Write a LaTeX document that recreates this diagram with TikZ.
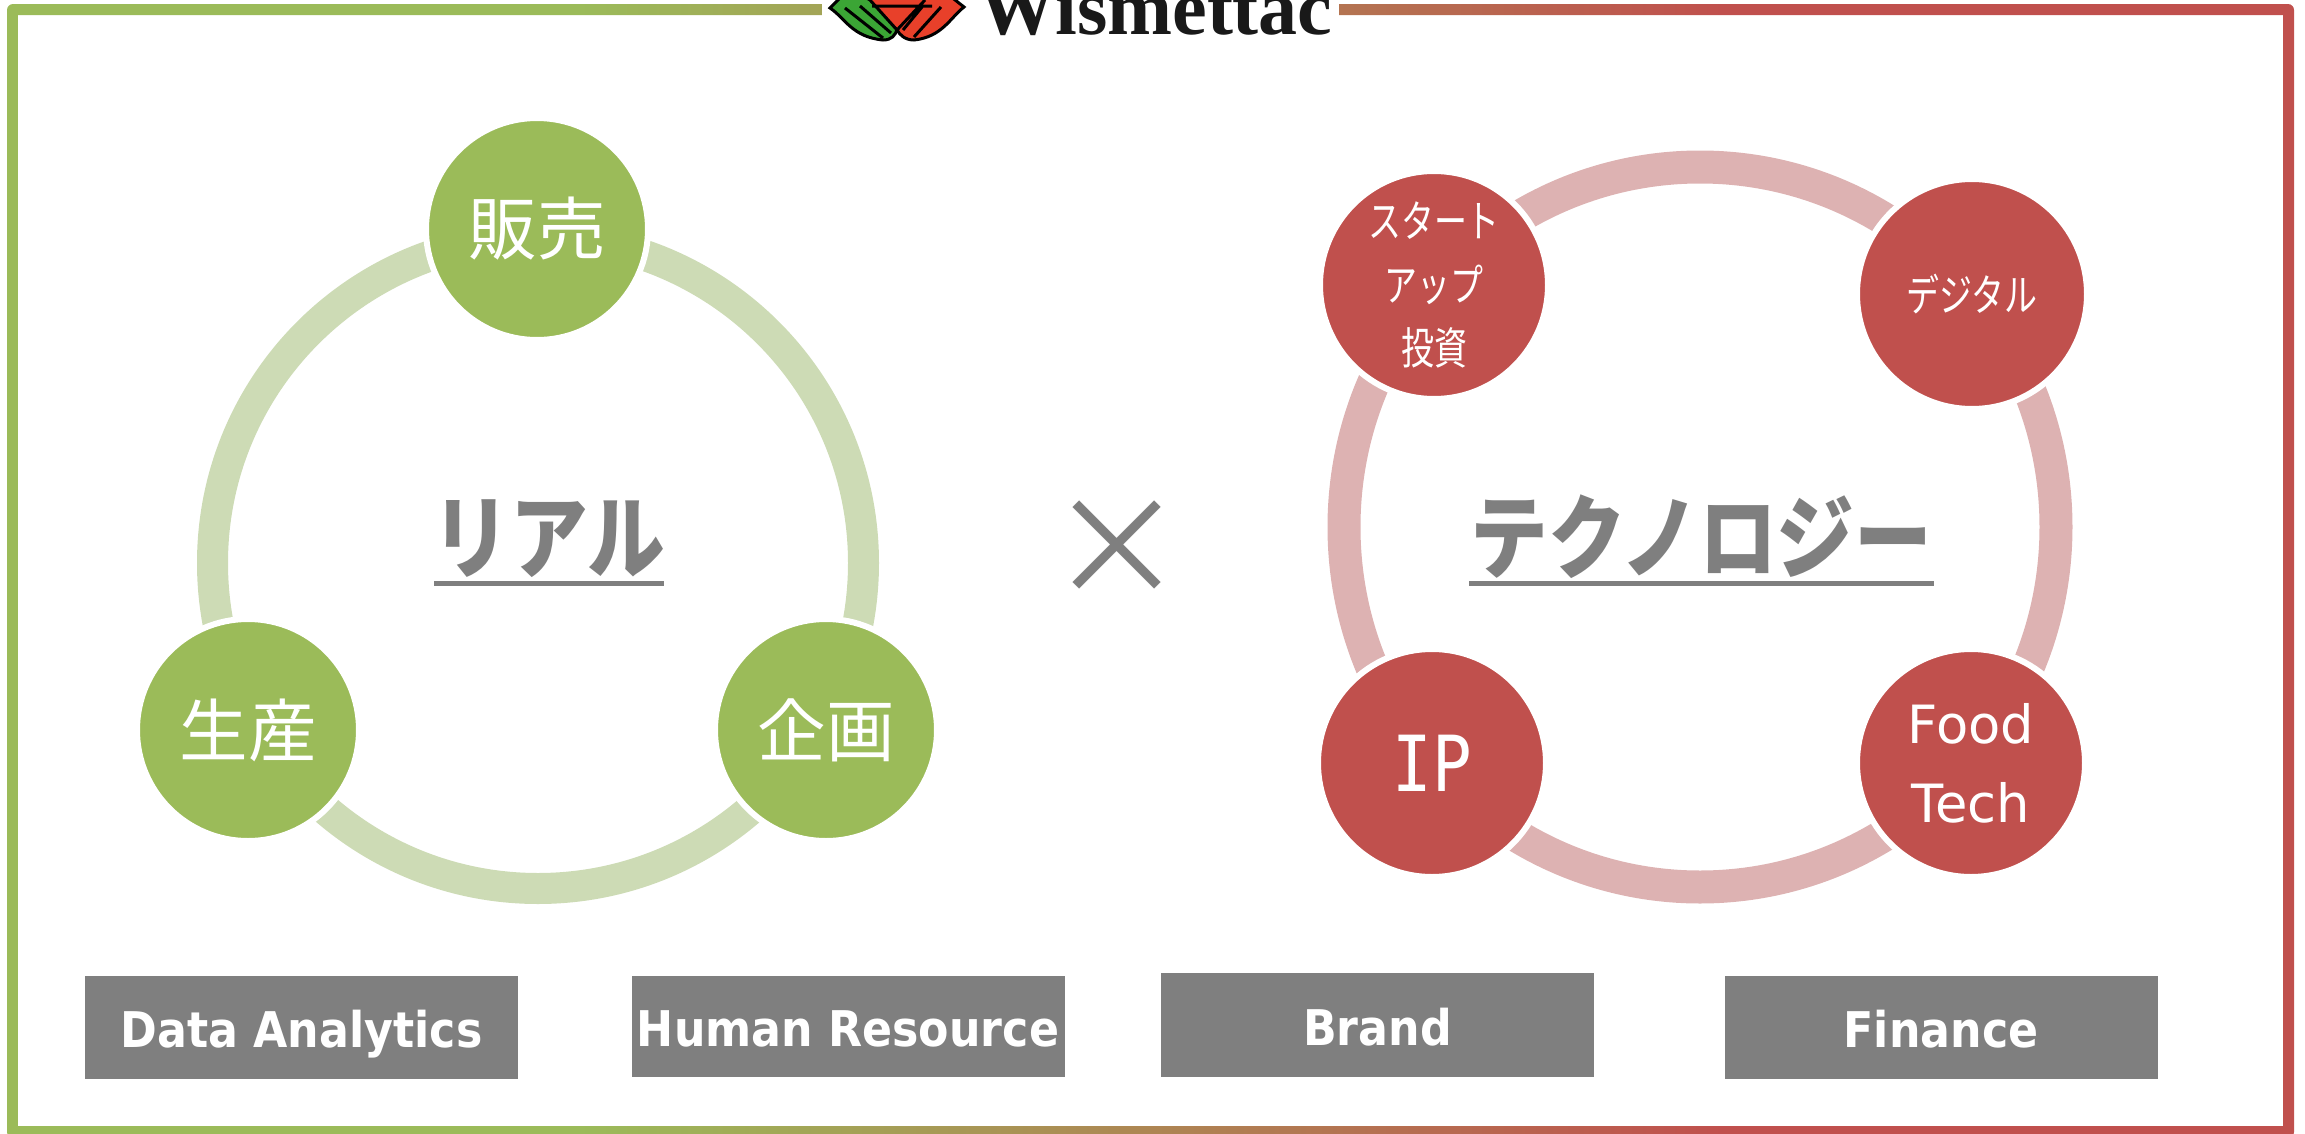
\documentclass[tikz,border=0pt]{standalone}
\usepackage{fontspec}
\setmainfont{DejaVu Sans}
\newfontfamily\jpfont{Noto Sans CJK JP}
\newfontfamily\jpnarrow[FakeStretch=0.85]{Noto Sans CJK JP}
\newfontfamily\jpsmall[FakeStretch=0.75]{Noto Sans CJK JP}
\newfontfamily\boxfont[FakeStretch=0.9]{DejaVu Sans}
\newfontfamily\logofont{Liberation Serif}
\newfontfamily\monofont[FakeStretch=0.85]{DejaVu Sans Mono}
\definecolor{realgreen}{HTML}{9BBB59}
\definecolor{techred}{HTML}{C0504D}
\definecolor{ringgreen}{HTML}{CDDBB5}
\definecolor{ringred}{HTML}{DDB2B2}
\definecolor{labelgray}{HTML}{7F7F7F}
\definecolor{leafgreen}{HTML}{3BA535}
\definecolor{leafred}{HTML}{E8402A}
\pgfdeclarehorizontalshading{frameshade}{100bp}{color(0bp)=(realgreen); color(37.5bp)=(realgreen); color(62.5bp)=(techred); color(100bp)=(techred)}
\begin{document}
\begin{tikzpicture}
[realvertex/.style={shape=circle,fill=realgreen,draw=white,line width=0.06cm,minimum size=2.22cm,inner sep=0pt,text=white,font=\jpfont\fontsize{19.5}{24}\selectfont},
techvertex/.style={shape=circle,fill=techred,draw=white,line width=0.06cm,minimum size=2.28cm,inner sep=0pt,text=white,align=center},
realring/.style={draw=ringgreen,line width=0.31cm},
techring/.style={draw=ringred,line width=0.33cm},
titlenode/.style={inner sep=0pt,minimum height=1.02cm,text height=0.78cm,text depth=0cm,text=labelgray,font=\jpnarrow\bfseries\fontsize{26}{30}\selectfont},
titleline/.style={draw=labelgray,line width=0.05cm},
grouplabel/.style={fill=labelgray,inner sep=0pt,minimum width=4.33cm,minimum height=1.03cm,text height=0.40cm,text depth=0cm,text=white,font=\boxfont\bfseries\fontsize{14}{18}\selectfont},
logoline/.style={line width=0.03cm}]
\clip (0,0) rectangle (23.05,11.33);
%% frame
\path[shading=frameshade,even odd rule] [rounded corners=0.06cm] (0.07,-0.05) rectangle (22.94,11.29) [sharp corners] (0.18,0.07) rectangle (22.83,11.18);
%% logo
\fill[white] (8.22,11.33) rectangle (13.39,10.85);
\node (logotext) [anchor=base west,inner sep=0pt,font=\logofont\bfseries\fontsize{22.2}{24}\selectfont,text=black!90] at (9.78,10.99) {Wismettac};
\draw[fill=leafred,logoline] (9.64,11.26) .. controls (9.50,11.15) and (9.42,10.96) .. (9.14,10.93) .. controls (9.05,10.93) and (9.00,10.98) .. (8.97,11.03) -- (8.50,11.45) -- (9.40,11.45) -- cycle;
\draw[fill=leafgreen,logoline] (8.30,11.25) .. controls (8.45,11.15) and (8.52,10.96) .. (8.83,10.93) .. controls (8.92,10.93) and (8.95,10.98) .. (8.97,11.03) -- (8.70,11.33) -- (8.50,11.45) -- cycle;
\draw[logoline] (8.45,11.25) -- (8.83,10.95) (8.60,11.27) -- (8.91,11.00) (9.41,11.26) -- (9.14,10.96) (9.22,11.26) -- (9.03,11.03) (8.97,11.03) -- (9.25,11.33) (8.72,11.27) -- (9.32,11.27);
%% left ring
\draw[realring] (5.38,5.70) circle (3.255);
\node (sales) [realvertex] at (5.37,9.04) {販売};
\node (production) [realvertex] at (2.48,4.03) {生産};
\node (planning) [realvertex] at (8.26,4.03) {企画};
\node (real) [titlenode,inner xsep=-0.03cm,minimum width=2.28cm] at (5.49,6.01) {リアル};
\draw[titleline] (real.south west) -- (real.south east);
%%
\node (times) [text=labelgray,inner sep=0pt,font=\jpfont\fontsize{39}{44}\selectfont] at (11.17,5.84) {×};
%% right ring
\draw[techring] (17.00,6.06) ellipse (3.56 and 3.60);
\node (startup) [techvertex,font=\jpsmall\fontsize{12.5}{18}\selectfont] at (14.34,8.48) {スタート\\アップ\\投資};
\node (digital) [techvertex,minimum size=2.30cm,font=\jpsmall\fontsize{12.5}{18}\selectfont] at (19.72,8.39) {デジタル};
\node (ip) [techvertex,font=\monofont\fontsize{22}{26}\selectfont] at (14.32,3.70) {IP};
\node (foodtech) [techvertex,font=\fontsize{15}{22.5}\selectfont] at (19.71,3.70) {Food\\Tech};
\node (tech) [titlenode,inner xsep=-0.03cm,minimum width=4.63cm] at (17.015,6.01) {テクノロジー};
\draw[titleline] (tech.south west) -- (tech.south east);
%% bottom labels
\node (data) [grouplabel] at (3.015,1.06) {Data Analytics};
\node (human) [grouplabel,minimum height=1.01cm] at (8.48,1.07) {Human Resource};
\node (brand) [grouplabel,minimum height=1.04cm] at (13.775,1.08) {Brand};
\node (finance) [grouplabel] at (19.41,1.06) {Finance};
\end{tikzpicture}
\end{document}
